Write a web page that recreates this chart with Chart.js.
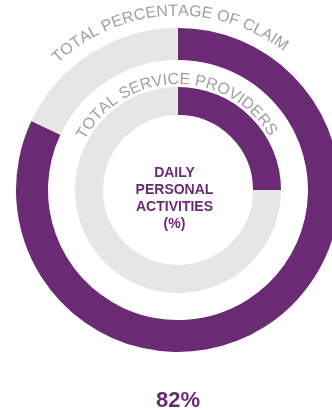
<!DOCTYPE html>
<html>
<head>
<meta charset="utf-8">
<script src="https://cdn.jsdelivr.net/npm/chart.js@4/dist/chart.umd.min.js"></script>
<style>
html,body{margin:0;padding:0;background:#fff;overflow:hidden;width:332px;height:410px;}
canvas{display:block;}
</style>
</head>
<body>
<canvas id="c" width="356" height="410"></canvas>
<script>
// Data
const ringLabels = ['TOTAL PERCENTAGE OF CLAIM', 'TOTAL SERVICE PROVIDERS'];
const claimValues = [82, 18];
const providerValues = [25, 75];
const centerLines = ['DAILY', 'PERSONAL', 'ACTIVITIES', '(%)'];
const bottomValue = '82%';

const PURPLE = '#6a2b74';
const GRAY = '#e6e6e6';
const TEXT_GRAY = '#a0a0a0';
const FONT = '"Liberation Sans", Arial, Helvetica, sans-serif';

function arcText(ctx, text, cx, cy, R, centerDeg, font) {
  ctx.save();
  ctx.font = font;
  ctx.fillStyle = TEXT_GRAY;
  ctx.textAlign = 'center';
  ctx.textBaseline = 'alphabetic';
  const W = ctx.measureText(text).width;
  let start = centerDeg * Math.PI / 180 - W / (2 * R);
  let acc = 0;
  for (const ch of text) {
    const w = ctx.measureText(ch).width;
    const a = start + (acc + w / 2) / R;
    ctx.save();
    ctx.translate(cx, cy);
    ctx.rotate(a);
    ctx.fillText(ch, 0, -R);
    ctx.restore();
    acc += w;
  }
  ctx.restore();
}

const textPlugin = {
  id: 'texts',
  afterDatasetsDraw(chart) {
    const ctx = chart.ctx;
    const arc = chart.getDatasetMeta(0).data[0];
    const cx = arc.x, cy = arc.y;
    arcText(ctx, ringLabels[0], cx, cy, 174.5, -3.5, '16px ' + FONT);
    arcText(ctx, ringLabels[1], cx, cy, 106, -1.5, '16px ' + FONT);
    ctx.save();
    ctx.fillStyle = PURPLE;
    ctx.textAlign = 'center';
    ctx.textBaseline = 'alphabetic';
    ctx.font = 'bold 14px ' + FONT;
    const base = [177, 194, 211, 227.5];
    centerLines.forEach((l, i) => ctx.fillText(l, cx - 3.5, cy - 190 + base[i]));
    ctx.font = 'bold 22px ' + FONT;
    ctx.fillText(bottomValue, cx, 406.5);
    ctx.restore();
  }
};

new Chart(document.getElementById('c'), {
  type: 'doughnut',
  data: {
    labels: ['a', 'b'],
    datasets: [
      { data: claimValues, backgroundColor: [PURPLE, GRAY], borderWidth: 0, hoverBorderWidth: 0, weight: 32 },
      { data: [1], backgroundColor: ['rgba(0,0,0,0)'], borderWidth: 0, hoverBorderWidth: 0, weight: 27 },
      { data: providerValues, backgroundColor: [PURPLE, GRAY], borderWidth: 0, hoverBorderWidth: 0, weight: 28 }
    ]
  },
  options: {
    responsive: false,
    animation: false,
    events: [],
    cutout: 75,
    layout: { padding: { top: 28, bottom: 58, left: 0, right: 0 } },
    plugins: { legend: { display: false }, tooltip: { enabled: false } }
  },
  plugins: [textPlugin]
});
</script>
</body>
</html>
